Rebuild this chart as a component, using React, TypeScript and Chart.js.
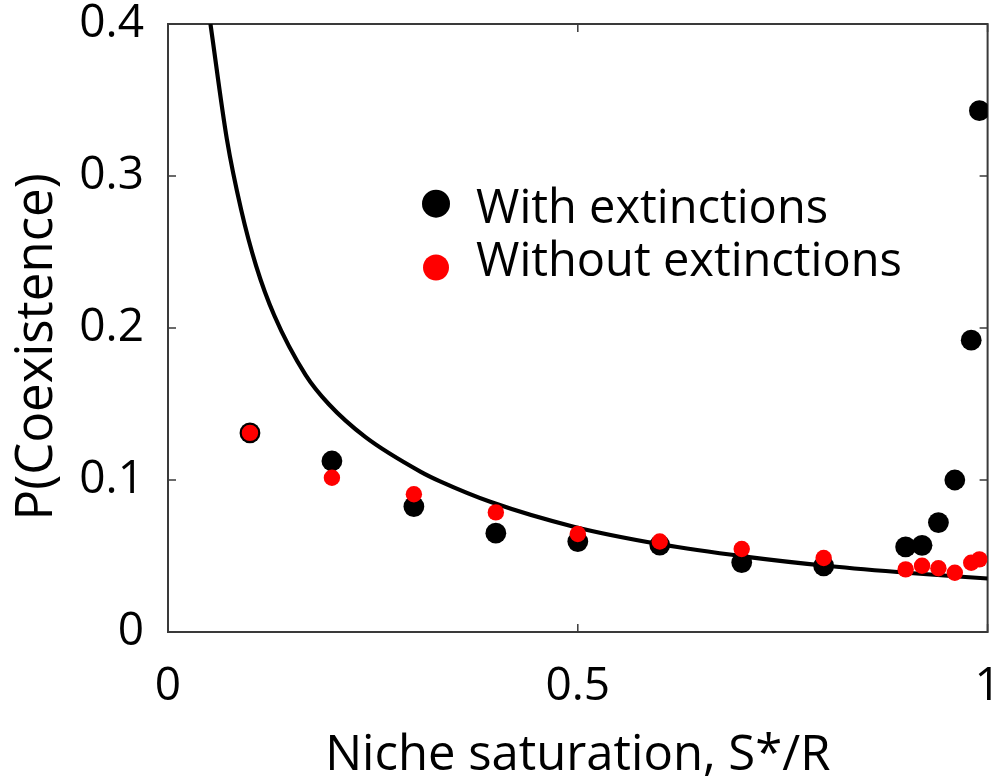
import { useEffect, useRef } from "react";
import { Chart, registerables } from "chart.js";

Chart.register(...registerables);

// Niche saturation values at which the simulations were run
const saturation = [0.1, 0.2, 0.3, 0.4, 0.5, 0.6, 0.7, 0.8, 0.9, 0.92, 0.94, 0.96, 0.98, 0.99];

// Probability of coexistence, simulations with extinctions
const withExtinctions = [0.131, 0.1125, 0.0825, 0.065, 0.0595, 0.0572, 0.0457, 0.0435, 0.056, 0.057, 0.072, 0.1, 0.192, 0.343];

// Probability of coexistence, simulations without extinctions
const withoutExtinctions = [0.131, 0.1015, 0.0906, 0.0787, 0.0645, 0.0595, 0.0546, 0.0487, 0.0412, 0.0436, 0.0419, 0.039, 0.0456, 0.0478];

// Analytical prediction (solid curve)
const theoryX = [0.0518, 0.0719, 0.0893, 0.1075, 0.1297, 0.168, 0.196, 0.241, 0.309, 0.332, 0.394, 0.495, 0.601, 0.704, 0.806, 0.905, 1.0];
const theoryY = [0.4, 0.324, 0.2777, 0.2409, 0.2082, 0.169, 0.15, 0.1282, 0.1052, 0.0991, 0.0855, 0.0693, 0.0577, 0.0496, 0.0434, 0.0388, 0.0352];

const xTickValues = [0, 0.5, 1];
const yTickValues = [0, 0.1, 0.2, 0.3, 0.4];

const seriesLabels = ["With extinctions", "Without extinctions"];
const xTitle = "Niche saturation, S*/R";
const yTitle = "P(Coexistence)";

const FONT = "'Open Sans', 'Noto Sans', sans-serif";

// Closed frame with inward tick marks, the rotated y title and an in-plot legend
const framePlugin = {
  id: "frameAndLegend",
  beforeDatasetsDraw(chart: any) {
    const { ctx, chartArea, scales } = chart;
    const { left, right, top, bottom } = chartArea;
    ctx.save();
    ctx.strokeStyle = "#3a3a3a";
    ctx.lineWidth = 2;
    ctx.strokeRect(left, top, right - left, bottom - top);
    ctx.lineWidth = 1.5;
    const len = 8;
    ctx.beginPath();
    xTickValues.forEach((v) => {
      const px = scales.x.getPixelForValue(v);
      ctx.moveTo(px, bottom);
      ctx.lineTo(px, bottom - len);
      ctx.moveTo(px, top);
      ctx.lineTo(px, top + len);
    });
    yTickValues.forEach((v) => {
      const py = scales.y.getPixelForValue(v);
      ctx.moveTo(left, py);
      ctx.lineTo(left + len, py);
      ctx.moveTo(right, py);
      ctx.lineTo(right - len, py);
    });
    ctx.stroke();

    // y-axis title
    ctx.translate(52, top + 0.531 * (bottom - top));
    ctx.rotate(-Math.PI / 2);
    ctx.font = `51px ${FONT}`;
    ctx.fillStyle = "#000";
    ctx.textAlign = "center";
    ctx.textBaseline = "alphabetic";
    ctx.fillText(yTitle, 0, 0);
    ctx.restore();
  },
  afterDatasetsDraw(chart: any) {
    const { ctx, chartArea } = chart;
    const { left, top, width, height } = chartArea;
    const entries = [
      { ds: chart.data.datasets[1], r: 14, dotY: 0.2956, textY: 0.3273 },
      { ds: chart.data.datasets[0], r: 13, dotY: 0.4005, textY: 0.4145 },
    ];
    ctx.save();
    ctx.font = `47px ${FONT}`;
    ctx.textAlign = "left";
    ctx.textBaseline = "alphabetic";
    entries.forEach((e) => {
      ctx.fillStyle = e.ds.backgroundColor;
      ctx.beginPath();
      ctx.arc(left + 0.327 * width, top + e.dotY * height, e.r, 0, Math.PI * 2);
      ctx.fill();
      ctx.fillStyle = "#000";
      ctx.fillText(e.ds.label, left + 0.3758 * width, top + e.textY * height);
    });
    ctx.restore();
  },
};

export default function App() {
  const canvasRef = useRef<HTMLCanvasElement | null>(null);

  useEffect(() => {
    document.body.style.margin = "0";
    const canvas = canvasRef.current;
    if (!canvas) return;

    const chart = new Chart(canvas, {
      type: "scatter",
      data: {
        datasets: [
          {
            label: seriesLabels[1],
            data: saturation.map((s, i) => ({ x: s, y: withoutExtinctions[i] })),
            backgroundColor: "#ff0000",
            pointRadius: 8.2,
            pointBorderWidth: 0,
            pointHoverRadius: 8.2,
            order: 0,
          },
          {
            label: seriesLabels[0],
            data: saturation.map((s, i) => ({ x: s, y: withExtinctions[i] })),
            backgroundColor: "#000000",
            pointRadius: 10.4,
            pointBorderWidth: 0,
            pointHoverRadius: 10.4,
            order: 1,
          },
          {
            label: "Theory",
            data: theoryX.map((s, i) => ({ x: s, y: theoryY[i] })),
            showLine: true,
            borderColor: "#000000",
            borderWidth: 4.2,
            pointRadius: 0,
            cubicInterpolationMode: "monotone",
            order: 2,
          } as any,
        ],
      },
      options: {
        animation: false,
        responsive: false,
        events: [],
        layout: { padding: { top: 24, right: 5, left: 0, bottom: 0 } },
        plugins: {
          legend: { display: false },
          tooltip: { enabled: false },
        },
        scales: {
          x: {
            type: "linear",
            min: 0,
            max: 1,
            afterBuildTicks: (scale: any) => {
              scale.ticks = xTickValues.map((v) => ({ value: v }));
            },
            afterFit: (scale: any) => {
              scale.height = 151;
              scale.paddingLeft = 0;
              scale.paddingRight = 0;
            },
            grid: { display: false, drawTicks: false },
            border: { display: false },
            ticks: {
              padding: 27,
              color: "#000",
              font: { family: FONT, size: 46 },
              maxRotation: 0,
              callback: (v: any) => String(v),
            },
            title: {
              display: true,
              text: xTitle,
              color: "#000",
              font: { family: FONT, size: 49, lineHeight: 1 },
              padding: { top: 0, bottom: 2 },
            },
          },
          y: {
            type: "linear",
            min: 0,
            max: 0.4,
            afterBuildTicks: (scale: any) => {
              scale.ticks = yTickValues.map((v) => ({ value: v }));
            },
            afterFit: (scale: any) => {
              scale.width = 168;
              scale.paddingTop = 0;
              scale.paddingBottom = 0;
            },
            grid: { display: false, drawTicks: false },
            border: { display: false },
            ticks: {
              padding: 24,
              color: "#000",
              font: { family: FONT, size: 46 },
              callback: (v: any) => String(v),
            },
            title: { display: false },
          },
        },
      },
      plugins: [framePlugin],
    });

    return () => chart.destroy();
  }, []);

  return (
    <div style={{ width: 998, height: 783 }}>
      <canvas ref={canvasRef} width={998} height={783} />
    </div>
  );
}
